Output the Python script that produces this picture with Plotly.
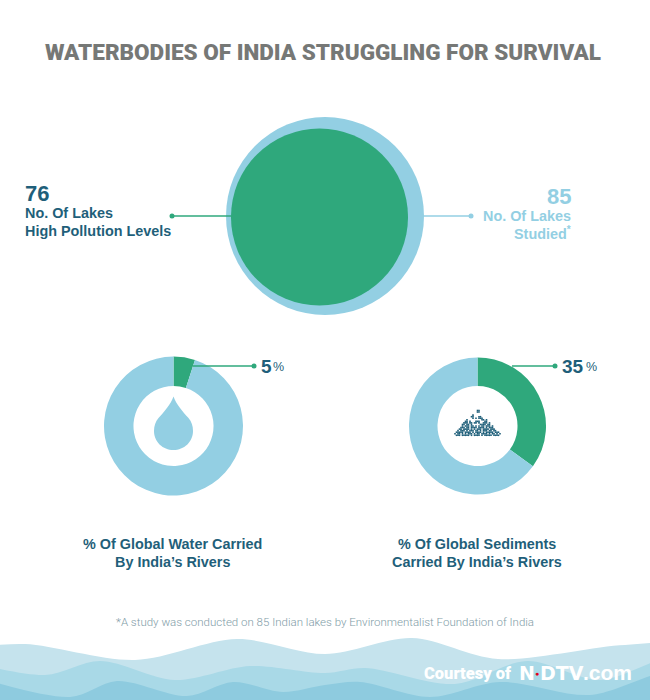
import plotly.graph_objects as go

W, H = 650, 700

GREEN = "#2fa87c"
BLUE = "#93cfe3"
DARK = "#1f5f7a"

# lakes
lake_labels = ["No. Of Lakes Studied", "No. Of Lakes High Pollution Levels"]
lake_values = [85, 76]

# rivers, percent of global total
water_share = [5, 95]
sediment_share = [35, 65]

# background waves
wave1_x = [-30, 25, 135, 237, 325, 412, 498, 625, 680]
wave1_y = [648, 644, 660, 639, 654, 638, 659, 645, 648]
wave2_x = [-30, 45, 100, 175, 250, 325, 365, 455, 527, 600, 680]
wave2_y = [662, 675, 661, 680, 666, 673, 668, 684, 661, 680, 658]
wave3_x = [-30, 70, 117, 187, 233, 283, 325, 360, 430, 500, 590, 680]
wave3_y = [675, 697, 681, 696, 682, 692, 685, 682, 697, 682, 695, 672]

# sand pile icon, one char per dot
sand_rows = [
    "...............##...............",
    "...............##...............",
    "................................",
    "............#...................",
    "...........##...##..............",
    "............#.#.###.............",
    "........#.........##.#..........",
    ".......##.#...###...##..........",
    "......###.##.##.#..###.#........",
    ".....##.##.#.....####.##........",
    ".....#.###.##.#.#.##.###.#......",
    "....###.##.####.####.#.###......",
    "...##.####.#.#.###.####.###.....",
    "..#.###.#.###.##.#.###.##.##....",
    ".#####.####.#.####.#.#####.###..",
    "#.##.#.#.###.#.##.####.#.##.#.#.",
    ".###.#####.#.####.#.#####.####..",
]


def pie_domain(cx, cy, r):
    return dict(x=[(cx - r) / W, (cx + r) / W],
                y=[1 - (cy + r) / H, 1 - (cy - r) / H])


def donut(values, cx, cy, r, hole):
    return go.Pie(values=values, domain=pie_domain(cx, cy, r), hole=hole,
                  sort=False, direction="clockwise", rotation=0,
                  marker=dict(colors=[GREEN, BLUE], line=dict(width=0)),
                  textinfo="none", showlegend=False, hoverinfo="none")


def note(x, y, text, size=14.4, color=DARK, anchor="left", family="Liberation Sans", **font_extra):
    return dict(x=x, y=y, xref="x", yref="y", text=text, showarrow=False,
                xanchor=anchor, yanchor="middle", align=anchor,
                font=dict(family=family, size=size, color=color, **font_extra))


def connector(x0, x1, y, color):
    return dict(type="line", xref="x", yref="y", x0=x0, x1=x1, y0=y, y1=y,
                line=dict(color=color, width=1.5), layer="above")


fig = go.Figure()

# waves, lightest at the back
for xs, ys, col in [(wave1_x, wave1_y, "#c5e3ed"),
                    (wave2_x, wave2_y, "#a9d9e7"),
                    (wave3_x, wave3_y, "#8ecbdf")]:
    fig.add_trace(go.Scatter(x=xs + [xs[-1], xs[0]], y=ys + [730, 730],
                             mode="lines", fill="toself", fillcolor=col,
                             line=dict(color=col, width=0, shape="spline", smoothing=0.9),
                             hoverinfo="skip", showlegend=False))

# lake bubbles, diameter scaled to the count
scale = 85 / 198
fig.add_trace(go.Scatter(x=[325, 319.5], y=[216, 217], mode="markers", text=lake_labels,
                         marker=dict(size=lake_values, sizemode="diameter", sizeref=scale,
                                     color=[BLUE, GREEN], opacity=1, line=dict(width=0)),
                         hoverinfo="text", showlegend=False))

# connector end dots
fig.add_trace(go.Scatter(x=[172, 254, 555], y=[216, 366, 366], mode="markers",
                         marker=dict(size=5, color=GREEN), hoverinfo="skip", showlegend=False))
fig.add_trace(go.Scatter(x=[471], y=[216], mode="markers",
                         marker=dict(size=5, color=BLUE), hoverinfo="skip", showlegend=False))

# sand pile
sand_x, sand_y = [], []
for i, row in enumerate(sand_rows):
    for j, ch in enumerate(row):
        if ch == "#":
            sand_x.append(455 + j * 1.5)
            sand_y.append(410.5 + i * 1.55)
fig.add_trace(go.Scatter(x=sand_x, y=sand_y, mode="markers",
                         marker=dict(size=1.6, color=DARK, symbol="square", line=dict(width=0)),
                         hoverinfo="skip", showlegend=False))

fig.add_trace(donut(water_share, 173.5, 426, 69.5, 0.576))
fig.add_trace(donut(sediment_share, 477.5, 426, 68.5, 0.584))

shapes = [
    connector(172, 231, 216, GREEN),
    connector(423, 471, 216, BLUE),
    connector(193, 254, 366, GREEN),
    connector(512, 555, 366, GREEN),
    dict(type="path", xref="x", yref="y", fillcolor=BLUE, line=dict(width=0), layer="above",
         path="M173.5,396.5 C171,404 164,412 158.5,418 C155.5,421.5 154,426 154,431 "
              "C154,442 163,450 173.5,450 C184,450 193,442 193,431 "
              "C193,426 191.5,421.5 188.5,418 C183,412 176,404 173.5,396.5 Z"),
]

annotations = [
    note(323, 52, "WATERBODIES OF INDIA STRUGGLING FOR SURVIVAL", size=22.5,
         color="#767876", anchor="center", family="Roboto", weight=900),
    note(23, 193, f"<b>{lake_values[1]}</b>", size=22),
    note(23, 213, "<b>No. Of Lakes</b>"),
    note(23, 231, "<b>High Pollution Levels</b>"),
    note(573, 196, f"<b>{lake_values[0]}</b>", size=22, color=BLUE, anchor="right"),
    note(573, 216, "<b>No. Of Lakes</b>", color=BLUE, anchor="right"),
    note(573, 233, "<b>Studied<sup>*</sup></b>", color=BLUE, anchor="right"),
    note(259, 366, f"<b>{water_share[0]}</b>", size=19),
    note(271, 367, "%", size=12.5),
    note(560, 366, f"<b>{sediment_share[0]}</b>", size=19),
    note(584, 367, "%", size=12.5),
    note(172, 544, "<b>% Of Global Water Carried</b>", anchor="center"),
    note(172, 562, "<b>By India’s Rivers</b>", anchor="center"),
    note(477, 544, "<b>% Of Global Sediments</b>", anchor="center"),
    note(477, 562, "<b>Carried By India’s Rivers</b>", anchor="center"),
    note(325, 622, "*A study was conducted on 85 Indian lakes by Environmentalist Foundation of India",
         size=11.5, color="#7f9ca7", anchor="center", family="Roboto", weight=300),
    note(422, 673, "Courtesy of", size=16.5, color="white", family="Roboto", weight=900),
    note(517, 673, "<b>N</b>", size=19, color="white", family="DejaVu Sans"),
    note(538, 673, "<b>DTV</b>", size=19, color="white", family="DejaVu Sans"),
    note(581, 672, "<b>.com</b>", size=21, color="white"),
    note(537, 673, "●", size=7, color="#e3001b", anchor="center"),
]

fig.update_layout(
    width=W, height=H, margin=dict(l=0, r=0, t=0, b=0),
    paper_bgcolor="white", plot_bgcolor="white",
    xaxis=dict(range=[0, W], visible=False, fixedrange=True),
    yaxis=dict(range=[H, 0], visible=False, fixedrange=True),
    shapes=shapes, annotations=annotations, showlegend=False,
)

# body margin would push the page 8px off
fig.write_html("out.html", config={"displayModeBar": False},
               post_script="document.body.style.margin='0';")
